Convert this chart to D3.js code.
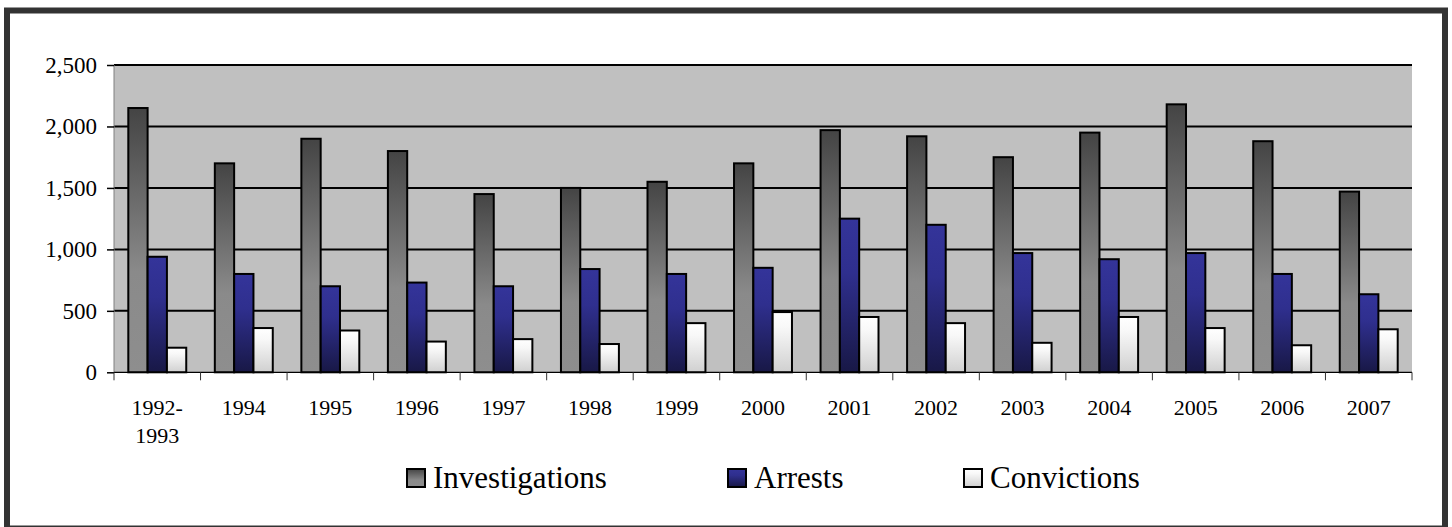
<!DOCTYPE html>
<html>
<head>
<meta charset="utf-8">
<script src="https://cdn.jsdelivr.net/npm/d3@7"></script>
<style>
  html, body { margin: 0; padding: 0; background: #ffffff; }
  svg { display: block; }
</style>
</head>
<body>
<svg id="chart" width="1452" height="527"></svg>
<script>
// ---- data ----
const categories = [["1992-", "1993"], ["1994"], ["1995"], ["1996"], ["1997"], ["1998"], ["1999"], ["2000"], ["2001"], ["2002"], ["2003"], ["2004"], ["2005"], ["2006"], ["2007"]];
const seriesNames = ["Investigations", "Arrests", "Convictions"];
const investigations = [2150, 1700, 1900, 1800, 1450, 1500, 1550, 1700, 1970, 1920, 1750, 1950, 2180, 1880, 1470];
const arrests        = [940, 800, 700, 730, 700, 840, 800, 850, 1250, 1200, 970, 920, 970, 800, 635];
const convictions    = [200, 360, 340, 250, 270, 230, 400, 490, 450, 400, 240, 450, 360, 220, 350];
const yTicks = [0, 500, 1000, 1500, 2000, 2500];

// ---- layout / style ----
const FONT = '"Liberation Serif", serif';
// warm up the local serif font so it is resolved before drawing
const cv = document.createElement("canvas").getContext("2d");
["22px", "23px", "31px"].forEach(s => { cv.font = s + ' "Liberation Serif", serif'; cv.measureText("Investigations Arrests Convictions 0123456789,-"); });

const plot = { left: 114, right: 1412, top: 65, bottom: 372.3 };
const svg = d3.select("#chart");
const defs = svg.append("defs");

const gradients = [
  { id: "gInv", stops: [[0, "#444444"], [0.62, "#8a8a8a"], [1, "#8e8e8e"]] },
  { id: "gArr", stops: [[0, "#34349a"], [0.35, "#2f2f8e"], [1, "#181846"]] },
  { id: "gCon", stops: [[0, "#ffffff"], [0.25, "#f8f8f8"], [1, "#d0d0d0"]] }
];
gradients.forEach(g => {
  const lg = defs.append("linearGradient").attr("id", g.id)
    .attr("x1", 0).attr("y1", 0).attr("x2", 0).attr("y2", 1);
  g.stops.forEach(s => lg.append("stop").attr("offset", s[0]).attr("stop-color", s[1]));
});

// outer frame
svg.append("rect").attr("x", 7).attr("y", 10.5).attr("width", 1438).attr("height", 518)
  .attr("fill", "#ffffff").attr("stroke", "#333333").attr("stroke-width", 6);

const catKeys = categories.map(c => c.join(" "));
const x0 = d3.scaleBand().domain(catKeys).range([plot.left, plot.right]).paddingInner(0).paddingOuter(0);
const groupW = x0.bandwidth();
const barW = groupW / (3 + 1.48);
const gap = groupW - 3 * barW;
const y = d3.scaleLinear().domain([0, 2500]).range([plot.bottom, plot.top]);

// plot background
svg.append("rect").attr("x", plot.left).attr("y", plot.top)
  .attr("width", plot.right - plot.left).attr("height", plot.bottom - plot.top)
  .attr("fill", "#c0c0c0");

// gridlines
svg.append("g").selectAll("line").data(yTicks.filter(t => t > 0)).join("line")
  .attr("x1", plot.left).attr("x2", plot.right)
  .attr("y1", d => y(d)).attr("y2", d => y(d))
  .attr("stroke", "#000").attr("stroke-width", 2);

// left axis line
svg.append("line").attr("x1", plot.left).attr("x2", plot.left)
  .attr("y1", plot.top).attr("y2", plot.bottom)
  .attr("stroke", "#808080").attr("stroke-width", 1);

// y axis
const yAxis = d3.axisLeft(y).tickValues(yTicks).tickSize(7).tickPadding(10)
  .tickFormat(d3.format(","));
const gy = svg.append("g").attr("transform", `translate(${plot.left},0)`).call(yAxis)
  .attr("font-family", FONT).attr("font-size", 23);
gy.select(".domain").remove();
gy.selectAll(".tick line").attr("stroke", "#000").attr("stroke-width", 1.5);
gy.selectAll(".tick text").style("font-family", FONT).style("font-size", "23px")
  .attr("fill", "#000").attr("dy", "0.32em");

// bars
const series = [investigations, arrests, convictions];
const fills = ["url(#gInv)", "url(#gArr)", "url(#gCon)"];
const x1 = d3.scaleBand().domain(seriesNames).range([gap / 2, gap / 2 + 3 * barW]).padding(0);
series.forEach((vals, si) => {
  svg.append("g").selectAll("rect").data(vals).join("rect")
    .attr("x", (d, i) => x0(catKeys[i]) + x1(seriesNames[si]))
    .attr("y", d => y(d))
    .attr("width", x1.bandwidth())
    .attr("height", d => y(0) - y(d))
    .attr("fill", fills[si])
    .attr("stroke", "#000").attr("stroke-width", 2);
});

// x axis line and ticks
svg.append("line").attr("x1", plot.left).attr("x2", plot.right)
  .attr("y1", plot.bottom).attr("y2", plot.bottom)
  .attr("stroke", "#000").attr("stroke-width", 1.2);
const boundaries = catKeys.map(k => x0(k)).concat([plot.right]);
svg.append("g").selectAll("line").data(boundaries).join("line")
  .attr("x1", d => d).attr("x2", d => d)
  .attr("y1", plot.bottom).attr("y2", plot.bottom + 8)
  .attr("stroke", "#333").attr("stroke-width", 1);

// x labels
const xl = svg.append("g").selectAll("text").data(categories).join("text")
  .attr("text-anchor", "middle")
  .style("font-family", FONT).style("font-size", "22px")
  .attr("x", (d, i) => x0(catKeys[i]) + groupW / 2)
  .attr("y", 415);
xl.selectAll("tspan").data(d => d).join("tspan")
  .attr("x", function() { return d3.select(this.parentNode).attr("x"); })
  .attr("dy", (d, i) => i === 0 ? 0 : 28)
  .text(d => d);

// legend
const legendX = [406, 727, 963];
const lg = svg.append("g");
seriesNames.forEach((name, i) => {
  lg.append("rect").attr("x", legendX[i] + 1).attr("y", 469).attr("width", 18).attr("height", 18)
    .attr("fill", fills[i]).attr("stroke", "#000").attr("stroke-width", 2);
  lg.append("text").attr("x", legendX[i] + 27).attr("y", 488)
    .style("font-family", FONT).style("font-size", "31px").text(name);
});
</script>
</body>
</html>
